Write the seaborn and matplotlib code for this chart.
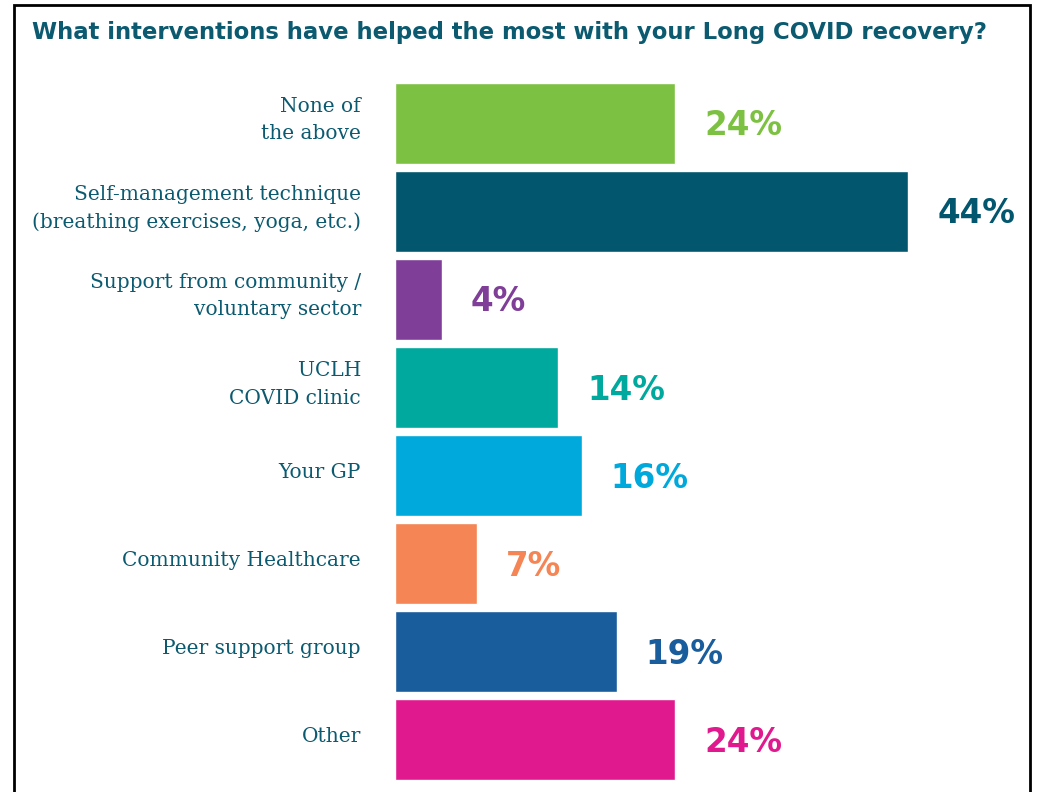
import matplotlib.pyplot as plt
import matplotlib.transforms as mtransforms
import seaborn as sns
from matplotlib.patches import Rectangle

# Data
categories = ['None of\nthe above',
              'Self-management technique\n(breathing exercises, yoga, etc.)',
              'Support from community /\nvoluntary sector',
              'UCLH\nCOVID clinic',
              'Your GP',
              'Community Healthcare',
              'Peer support group',
              'Other']
values = [24, 44, 4, 14, 16, 7, 19, 24]
colors = ['#7DC142', '#02566E', '#7F3F98', '#00A99D',
          '#00A9DB', '#F58554', '#1A5D9C', '#E0198E']
title = 'What interventions have helped the most with your Long COVID recovery?'

text_color = '#0B5A70'

sns.set_style('white')

fig = plt.figure(figsize=(10.4, 7.92), dpi=100)
ax = fig.add_axes([395 / 1040, 8 / 792, (1030 - 395) / 1040, (784 - 79) / 792])

sns.barplot(x=values, y=categories, hue=categories, palette=colors,
            saturation=1, width=0.92, legend=False, orient='h', ax=ax)

ax.set_xlim(0, (1030 - 395) / 11.66)
ax.set_ylim(7.5, -0.5)
ax.set_xticks([])
ax.set_yticks([])
ax.set_xlabel('')
ax.set_ylabel('')
sns.despine(ax=ax, left=True, bottom=True)

# category labels, a little above the bar centres
lab_tr = mtransforms.offset_copy(ax.get_yaxis_transform(), fig=fig,
                                 x=-34, y=3, units='dots')
for i, cat in enumerate(categories):
    ax.text(0, i, cat, transform=lab_tr, ha='right', va='center',
            fontfamily='DejaVu Serif', fontsize=14.5, color=text_color,
            linespacing=1.55)

# percentage labels
for i, (v, c) in enumerate(zip(values, colors)):
    ax.text(v + 2.5, i + 0.03, f'{v}%', va='center', ha='left',
            fontsize=23.5, fontweight='heavy', color=c, family='DejaVu Sans')

fig.text(32 / 1040, 1 - 33 / 792, title, ha='left', va='center',
         fontsize=16.4, fontweight='bold', color=text_color, family='DejaVu Sans')

# frame around the figure
fig.patches.append(Rectangle((14 / 1040, -0.02), (1030 - 14) / 1040, 1 - 5 / 792 + 0.02,
                             transform=fig.transFigure, fill=False,
                             edgecolor='black', linewidth=2))

fig.savefig('out.png', dpi=100)
